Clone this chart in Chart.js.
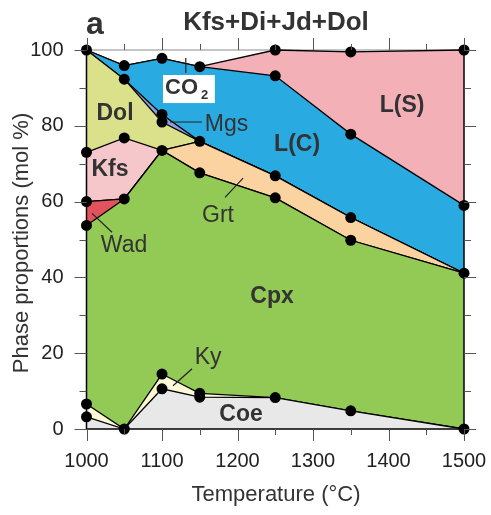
<!DOCTYPE html>
<html>
<head>
<meta charset="utf-8">
<script src="https://cdn.jsdelivr.net/npm/chart.js@4.4.0/dist/chart.umd.min.js"></script>
<style>
  html, body { margin: 0; padding: 0; background: #fff; }
  #wrap { width: 491px; height: 515px; }
</style>
</head>
<body>
<div id="wrap"><canvas id="js-chart-phases" width="491" height="515"></canvas></div>
<script>
// Temperatures (°C) of the computed assemblages
const temps = [1000, 1050, 1100, 1150, 1250, 1350, 1500];

// Upper edge of each phase field, cumulative mol % (bottom to top)
const coeTop = [3.2, 0, 10.6, 8.4, 8.3, 4.8, 0];
const kyTop  = [6.6, 0, 14.5, 9.4, 8.3, 4.8, 0];
const cpxTop = [53.7, 60.7, 73.5, 67.6, 61.0, 49.8, 41.1];
const wadTop = [60.0, 60.7, 73.5, 67.6, 61.0, 49.8, 41.1];
const grtTop = [60.0, 60.7, 73.5, 75.9, 66.8, 55.8, 41.1];
const kfsTop = [73.0, 76.8, 73.5, 75.9, 66.8, 55.8, 41.1];
const dolTop = [100, 92.3, 81.0, 75.9, 66.8, 55.8, 41.1];
const mgsTop = [100, 92.3, 83.0, 75.9, 66.8, 55.8, 41.1];
const lcTop  = [100, 95.9, 97.8, 95.6, 93.2, 77.8, 59.0];
const lsTop  = [100, 95.9, 97.8, 95.6, 100, 99.5, 100];

// Tick labels and tick marks
const xTicks = [1000, 1100, 1200, 1300, 1400, 1500];
const yTicks = [0, 20, 40, 60, 80, 100];
const xMarks = [1000, 1050, 1100, 1150, 1200, 1250, 1300, 1350, 1400, 1450, 1500];
const yMarks = [0, 10, 20, 30, 40, 50, 60, 70, 80, 90, 100];

const FONT = "'Liberation Sans', Arial, sans-serif";
const TEXT = '#333';

// Field labels (data coords) and their leader lines
const fieldLabels = [
  {text: 'Dol',  x: 1037.8, y: 83.3, bold: true},
  {text: 'Kfs',  x: 1031.1, y: 68.3, bold: true},
  {text: 'Mgs',  x: 1185.5, y: 80.4, bold: false},
  {text: 'L(C)', x: 1278.9, y: 74.9, bold: true},
  {text: 'L(S)', x: 1418.1, y: 85.2, bold: true},
  {text: 'Grt',  x: 1174.2, y: 56.4, bold: false},
  {text: 'Wad',  x: 1049.7, y: 48.5, bold: false},
  {text: 'Cpx',  x: 1245.8, y: 35.0, bold: true},
  {text: 'Ky',   x: 1161.0, y: 18.8, bold: false},
  {text: 'Coe',  x: 1204.7, y: 3.8,  bold: true}
];
const leaders = [
  [1131.5, 97.9, 1131.5, 93.9],   // CO2
  [1110.6, 81.0, 1153.0, 81.0],   // Mgs
  [1183.5, 61.1, 1207.4, 66.2],   // Grt
  [1007.3, 56.9, 1033.8, 51.9],   // Wad
  [1114.6, 11.4, 1139.8, 15.9]    // Ky
];

const R = 5.5;
function layer(label, tops, color, fill, dots) {
  return {
    label: label,
    data: temps.map((t, i) => ({x: t, y: tops[i]})),
    backgroundColor: color,
    borderColor: '#000',
    borderWidth: 1.3,
    fill: fill,
    tension: 0,
    pointRadius: dots.map(d => d ? R : 0),
    pointHoverRadius: 0,
    pointBackgroundColor: '#000',
    pointBorderWidth: 0,
    clip: false
  };
}

const phaseData = {
  datasets: [
    layer('Coe',  coeTop, '#e8e8e8', 'origin', [1, 1, 1, 1, 1, 1, 1]),
    layer('Ky',   kyTop,  '#fdf9d6', '-1', [1, 0, 1, 1, 0, 0, 0]),
    layer('Cpx',  cpxTop, '#93c955', '-1', [1, 1, 1, 1, 1, 1, 1]),
    layer('Wad',  wadTop, '#e2535d', '-1', [1, 0, 0, 0, 0, 0, 0]),
    layer('Grt',  grtTop, '#fbd3a0', '-1', [0, 0, 0, 1, 1, 1, 0]),
    layer('Kfs',  kfsTop, '#f6c7ca', '-1', [1, 1, 0, 0, 0, 0, 0]),
    layer('Dol',  dolTop, '#dbe08b', '-1', [1, 1, 1, 0, 0, 0, 0]),
    layer('Mgs',  mgsTop, '#8c9fda', '-1', [0, 0, 1, 0, 0, 0, 0]),
    layer('L(C)', lcTop,  '#29abe2', '-1', [0, 1, 1, 1, 1, 1, 1]),
    layer('L(S)', lsTop,  '#f3b0b6', '-1', [0, 0, 0, 0, 1, 1, 1])
  ]
};

// Frame, tick marks, field labels and titles
const decorations = {
  id: 'decorations',
  beforeDatasetsDraw(chart) {
    const {ctx, chartArea: a} = chart;
    ctx.save();
    ctx.strokeStyle = '#8c8c8c';
    ctx.lineWidth = 1.2;
    ctx.beginPath();
    ctx.moveTo(a.left, a.top);
    ctx.lineTo(a.right, a.top);
    ctx.stroke();
    ctx.restore();
  },
  afterDatasetsDraw(chart) {
    const {ctx, chartArea: a, scales: {x, y}} = chart;
    ctx.save();

    // left, bottom and right edges
    ctx.strokeStyle = '#000';
    ctx.lineWidth = 1.5;
    ctx.beginPath();
    ctx.moveTo(a.left, a.top);
    ctx.lineTo(a.left, a.bottom);
    ctx.lineTo(a.right, a.bottom);
    ctx.lineTo(a.right, y.getPixelForValue(lsTop[lsTop.length - 1]));
    ctx.stroke();

    // tick marks on all four sides
    ctx.strokeStyle = '#555';
    ctx.lineWidth = 1;
    ctx.beginPath();
    yMarks.forEach(v => {
      const py = Math.round(y.getPixelForValue(v)) + 0.5;
      const len = v % 20 === 0 ? 12 : 7;
      ctx.moveTo(a.left - len, py); ctx.lineTo(a.left, py);
      ctx.moveTo(a.right, py); ctx.lineTo(a.right + len, py);
    });
    xMarks.forEach(v => {
      const px = Math.round(x.getPixelForValue(v)) + 0.5;
      const len = v % 100 === 0 ? 12 : 6;
      ctx.moveTo(px, a.bottom); ctx.lineTo(px, a.bottom + len);
      ctx.moveTo(px, a.top - len); ctx.lineTo(px, a.top);
    });
    ctx.stroke();

    // leader lines
    ctx.strokeStyle = '#222';
    ctx.lineWidth = 1.2;
    ctx.beginPath();
    leaders.forEach(l => {
      ctx.moveTo(x.getPixelForValue(l[0]), y.getPixelForValue(l[1]));
      ctx.lineTo(x.getPixelForValue(l[2]), y.getPixelForValue(l[3]));
    });
    ctx.stroke();

    // field names
    ctx.fillStyle = TEXT;
    ctx.textAlign = 'center';
    ctx.textBaseline = 'middle';
    fieldLabels.forEach(l => {
      ctx.font = (l.bold ? 'bold ' : '') + '23px ' + FONT;
      ctx.fillText(l.text, x.getPixelForValue(l.x), y.getPixelForValue(l.y));
    });

    // CO2 on a white box
    const bx1 = x.getPixelForValue(1101.3), bx2 = x.getPixelForValue(1170);
    const by1 = y.getPixelForValue(93.4), by2 = y.getPixelForValue(86.0);
    ctx.fillStyle = '#fff';
    ctx.fillRect(bx1, by1, bx2 - bx1, by2 - by1);
    ctx.fillStyle = TEXT;
    ctx.font = 'bold 22px ' + FONT;
    ctx.fillText('CO', x.getPixelForValue(1125.9), y.getPixelForValue(90.0));
    ctx.font = 'bold 13px ' + FONT;
    ctx.fillText('2', x.getPixelForValue(1156.5), y.getPixelForValue(86.8) - 5);
    ctx.restore();
  },
  afterDraw(chart) {
    const {ctx} = chart;
    ctx.save();
    ctx.fillStyle = TEXT;
    ctx.textAlign = 'center';
    ctx.textBaseline = 'middle';
    ctx.font = 'bold 26px ' + FONT;
    ctx.fillText('Kfs+Di+Jd+Dol', 276, 23);
    ctx.font = 'bold 32px ' + FONT;
    ctx.fillText('a', 95, 25);
    ctx.font = '22px ' + FONT;
    ctx.fillText('Temperature (\u00B0C)', 276, 495);
    ctx.translate(22, 243);
    ctx.rotate(-Math.PI / 2);
    ctx.fillText('Phase proportions (mol %)', 0, 0);
    ctx.restore();
  }
};

const phaseOptions = {
  responsive: false,
  animation: false,
  devicePixelRatio: 1,
  layout: {padding: {top: 50, right: 27, bottom: 0, left: 0}},
  plugins: {legend: {display: false}, tooltip: {enabled: false}},
  scales: {
    x: {
      type: 'linear',
      min: 1000,
      max: 1500,
      afterBuildTicks: s => { s.ticks = xTicks.map(v => ({value: v})); },
      afterFit: s => { s.height = 86; },
      // invisible tick marks only push the labels away from the axis
      grid: {display: true, drawOnChartArea: false, drawTicks: true, tickLength: 20, tickColor: 'rgba(0,0,0,0)'},
      border: {display: false},
      ticks: {color: '#222', font: {family: FONT, size: 20}, padding: 0, maxRotation: 0,
        callback: v => String(v)}
    },
    y: {
      min: 0,
      max: 100,
      afterBuildTicks: s => { s.ticks = yTicks.map(v => ({value: v})); },
      afterFit: s => { s.width = 86.5; },
      grid: {display: true, drawOnChartArea: false, drawTicks: true, tickLength: 23, tickColor: 'rgba(0,0,0,0)'},
      border: {display: false},
      ticks: {color: '#222', font: {family: FONT, size: 20}, padding: 0,
        callback: v => String(v)}
    }
  }
};

new Chart(document.getElementById('js-chart-phases'), {
  type: 'line',
  data: phaseData,
  options: phaseOptions,
  plugins: [decorations]
});
</script>
</body>
</html>
